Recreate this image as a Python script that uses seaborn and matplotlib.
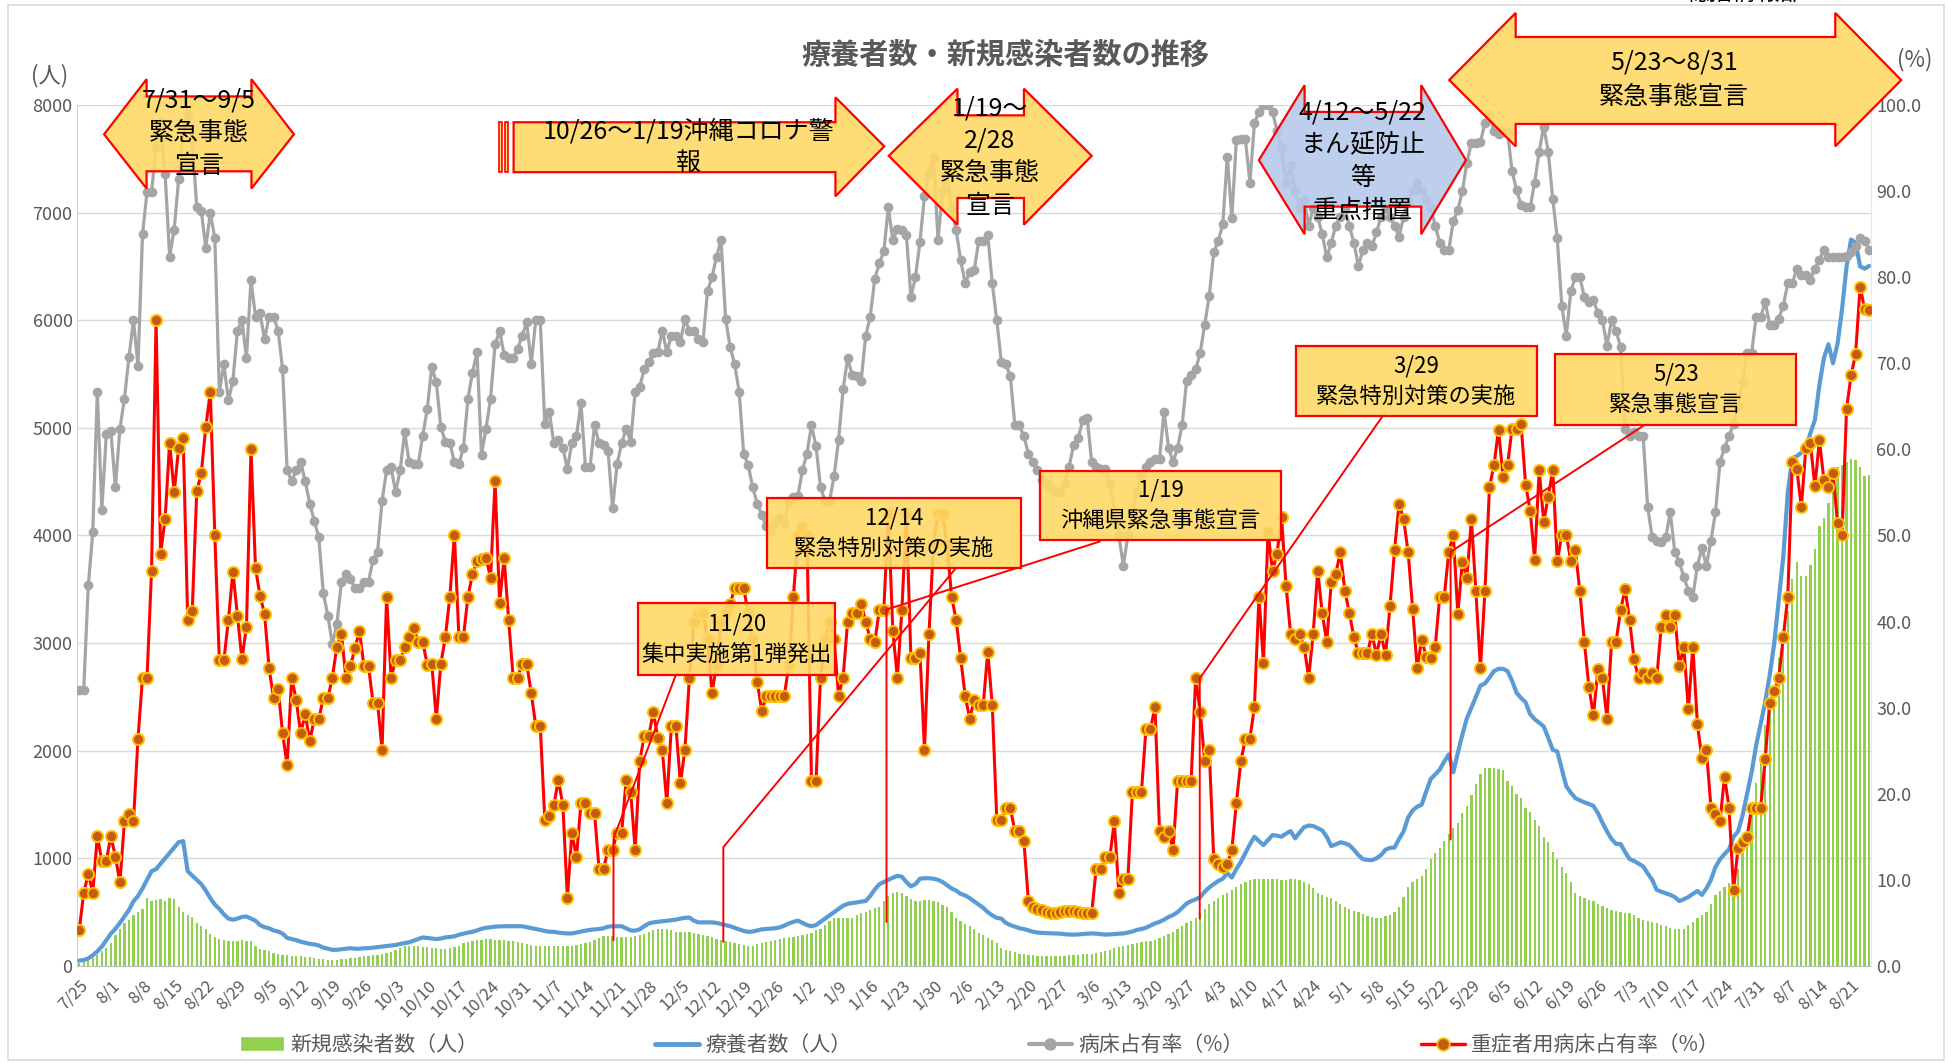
import numpy as np
import pandas as pd
import matplotlib
matplotlib.use("Agg")
import matplotlib.pyplot as plt
import matplotlib.colors as mcolors
from matplotlib.patches import Polygon, Rectangle, Patch
from matplotlib.lines import Line2D
import seaborn as sns

sns.set_style("white")
plt.rcParams['font.family'] = ['Noto Sans CJK JP', 'DejaVu Sans']

# daily categories 2020/7/25 - 2021/8/25
dates = pd.date_range("2020-07-25", "2021-08-25", freq="D")

# 新規感染者数（人） - one row per week starting at the tick date
new_cases = [
    30, 40, 55, 75, 100, 135, 170,          # 7/25
    210, 290, 340, 395, 430, 473, 500,      # 8/1
    525, 630, 600, 610, 620, 600, 630,      # 8/8
    620, 550, 500, 470, 455, 400, 370,      # 8/15
    343, 300, 265, 250, 240, 235, 229,      # 8/22
    235, 240, 235, 229, 190, 160, 150,      # 8/29
    135, 120, 110, 105, 100, 97, 94,        # 9/5
    90, 85, 80, 73, 68, 60, 55,             # 9/12
    52, 55, 60, 65, 73, 78, 82,             # 9/19
    88, 94, 100, 105, 110, 120, 130,        # 9/26
    150, 170, 187, 190, 190, 185, 180,      # 10/3
    175, 170, 165, 160, 160, 165, 175,      # 10/10
    190, 210, 225, 235, 240, 245, 250,      # 10/17
    250, 245, 240, 240, 235, 230, 220,      # 10/24
    210, 200, 195, 190, 187, 185, 185,      # 10/31
    185, 187, 190, 190, 190, 195, 200,      # 11/7
    210, 220, 240, 260, 275, 280, 280,      # 11/14
    270, 265, 265, 270, 275, 285, 300,      # 11/21
    320, 335, 343, 345, 340, 330, 320,      # 11/28
    317, 317, 315, 310, 300, 290, 280,      # 12/5
    270, 250, 240, 230, 220, 213, 205,      # 12/12
    195, 187, 190, 200, 213, 220, 230,      # 12/19
    240, 250, 260, 265, 270, 280, 291,      # 12/26
    300, 310, 330, 343, 380, 420, 447,      # 1/2
    447, 447, 447, 447, 470, 490, 500,      # 1/9
    520, 540, 551, 600, 650, 681, 690,      # 1/16
    681, 650, 620, 603, 603, 610, 610,      # 1/23
    603, 590, 570, 551, 500, 450, 421,      # 1/30
    390, 369, 340, 310, 291, 260, 240,      # 2/6
    213, 170, 150, 135, 125, 115, 109,      # 2/13
    105, 100, 97, 95, 94, 94, 94,           # 2/20
    95, 97, 100, 103, 105, 107, 109,        # 2/27
    115, 120, 128, 135, 150, 165, 180,      # 3/6
    187, 195, 205, 213, 220, 228, 235,      # 3/13
    240, 260, 280, 300, 317, 340, 370,      # 3/20
    400, 421, 450, 490, 530, 577, 600,      # 3/27
    630, 655, 680, 710, 735, 759, 780,      # 4/3
    800, 811, 811, 811, 811, 811, 805,      # 4/10
    800, 800, 805, 811, 800, 780, 759,      # 4/17
    720, 680, 655, 640, 629, 600, 577,      # 4/24
    550, 525, 510, 499, 480, 465, 457,      # 5/1
    450, 447, 460, 473, 500, 551, 640,      # 5/8
    733, 780, 811, 837, 900, 993, 1050,     # 5/15
    1097, 1160, 1227, 1280, 1331, 1420, 1487,  # 5/22
    1590, 1695, 1780, 1841, 1841, 1841, 1830,  # 5/29
    1825, 1720, 1669, 1600, 1565, 1470, 1435,  # 6/5
    1357, 1300, 1200, 1149, 1060, 993, 920,    # 6/12
    863, 780, 681, 650, 629, 610, 603,      # 6/19
    580, 560, 541, 520, 510, 499, 495,      # 6/26
    489, 470, 447, 430, 421, 405, 395,      # 7/3
    380, 369, 355, 343, 343, 343, 380,      # 7/10
    410, 447, 470, 499, 580, 655, 700,      # 7/17
    733, 770, 785, 900, 1050, 1227, 1435,   # 7/24
    1700, 1929, 2241, 2371, 2600, 2865, 2995,  # 7/31
    3300, 3593, 3749, 3619, 3619, 3723, 3879,  # 8/7
    4087, 4165, 4300, 4529, 4633, 4659, 4685,  # 8/14
    4711, 4700, 4633, 4555, 4566,           # 8/21
]

# 療養者数（人）
patients = [
    50, 55, 70, 100, 135, 180, 240,
    300, 345, 400, 460, 520, 600, 650,
    720, 800, 880, 900, 950, 1000, 1050,
    1100, 1150, 1160, 880, 840, 800, 760,
    700, 630, 570, 530, 480, 440, 430,
    440, 455, 460, 440, 420, 380, 360,
    350, 330, 320, 300, 260, 250, 240,
    225, 215, 205, 200, 190, 170, 160,
    150, 150, 155, 160, 165, 160, 160,
    165, 165, 170, 175, 180, 185, 190,
    195, 205, 213, 220, 235, 250, 265,
    260, 255, 250, 255, 265, 270, 275,
    290, 300, 310, 317, 330, 345, 354,
    360, 365, 368, 369, 369, 369, 369,
    369, 360, 350, 343, 335, 325, 318,
    317, 310, 305, 302, 302, 310, 320,
    328, 335, 340, 343, 350, 365, 369,
    369, 369, 350, 330, 328, 340, 370,
    395, 405, 410, 415, 421, 425, 430,
    440, 447, 450, 420, 405, 405, 405,
    405, 400, 390, 380, 369, 355, 340,
    325, 317, 320, 330, 340, 343, 345,
    350, 359, 375, 395, 410, 421, 400,
    380, 369, 380, 410, 440, 470, 500,
    530, 560, 577, 585, 590, 598, 603,
    650, 710, 759, 780, 800, 820, 837,
    830, 780, 740, 760, 811, 815, 815,
    811, 800, 780, 750, 720, 700, 670,
    655, 630, 600, 570, 540, 500, 470,
    447, 440, 400, 380, 365, 350, 343,
    330, 318, 310, 307, 305, 303, 302,
    300, 295, 292, 291, 293, 297, 300,
    302, 300, 295, 291, 293, 296, 300,
    302, 310, 320, 335, 343, 355, 375,
    395, 410, 430, 455, 473, 500, 540,
    580, 603, 619, 640, 690, 730, 760,
    790, 811, 863, 822, 900, 967, 1050,
    1130, 1201, 1160, 1123, 1170, 1217, 1210,
    1201, 1230, 1253, 1186, 1240, 1290, 1305,
    1300, 1280, 1260, 1200, 1113, 1130, 1149,
    1140, 1123, 1080, 1030, 993, 985, 983,
    1000, 1030, 1080, 1097, 1100, 1180, 1250,
    1380, 1445, 1480, 1498, 1620, 1737, 1780,
    1825, 1900, 1966, 1800, 1980, 2150, 2300,
    2400, 2500, 2605, 2625, 2680, 2740, 2761,
    2761, 2740, 2650, 2538, 2490, 2449, 2340,
    2293, 2260, 2226, 2120, 2010, 1992, 1830,
    1669, 1610, 1560, 1539, 1520, 1505, 1487,
    1420, 1331, 1250, 1180, 1134, 1134, 1060,
    993, 975, 950, 926, 860, 800, 707,
    690, 675, 660, 640, 603, 620, 640,
    670, 697, 660, 720, 800, 920, 990,
    1040, 1082, 1200, 1250, 1400, 1600, 1800,
    2050, 2250, 2450, 2700, 3000, 3400, 3800,
    4400, 4720, 4737, 4770, 4815, 4950, 5075,
    5400, 5650, 5777, 5600, 5780, 6100, 6500,
    6750, 6720, 6500, 6480, 6505,
]

# 病床占有率（%）
bed_rate = [
    32.1, 32.1, 44.2, 50.4, 66.7, 53.0, 61.8,
    62.1, 55.6, 62.4, 65.9, 70.7, 75.0, 69.7,
    85.0, 89.9, 89.9, 95.0, 98.0, 92.0, 82.4,
    85.5, 91.4, 97.0, 99.0, 96.0, 88.1, 87.7,
    83.4, 87.5, 84.5, 66.7, 69.9, 65.7, 68.0,
    73.8, 75.0, 70.6, 79.7, 75.4, 75.8, 72.8,
    75.4, 75.4, 73.8, 69.3, 57.6, 56.3, 57.6,
    58.5, 56.3, 53.7, 51.7, 49.8, 43.3, 40.7,
    37.4, 39.7, 44.6, 45.5, 44.9, 43.9, 43.9,
    44.6, 44.6, 47.2, 48.1, 54.0, 57.6, 57.9,
    55.0, 57.6, 62.0, 58.5, 58.3, 58.3, 61.6,
    64.7, 69.6, 67.8, 62.6, 60.9, 60.8, 58.5,
    58.3, 60.2, 65.9, 68.9, 71.3, 59.4, 62.4,
    65.9, 72.2, 73.8, 71.0, 70.6, 70.6, 71.7,
    73.2, 74.8, 69.9, 75.0, 75.0, 62.9, 64.4,
    60.7, 61.1, 60.2, 57.7, 60.8, 61.5, 65.4,
    57.9, 57.9, 62.8, 60.7, 60.5, 59.8, 53.2,
    58.3, 60.7, 62.4, 60.9, 66.7, 67.3, 69.3,
    70.2, 71.2, 71.3, 73.8, 71.3, 73.2, 73.2,
    72.5, 75.1, 73.8, 73.8, 72.8, 72.5, 78.4,
    80.0, 82.4, 84.3, 75.2, 71.9, 69.9, 66.7,
    59.5, 58.2, 55.6, 53.7, 52.4, 51.1, 50.5,
    51.5, 52.0, 51.5, 54.0, 54.5, 54.6, 57.6,
    59.5, 62.8, 60.4, 55.6, 54.0, 54.0, 56.9,
    61.1, 67.0, 70.6, 68.6, 68.5, 68.0, 73.2,
    75.4, 79.8, 81.6, 83.0, 88.1, 84.3, 85.6,
    85.5, 84.9, 77.7, 80.0, 84.1, 89.4, 92.0,
    94.0, 84.3, 90.0, 92.0, 88.0, 85.5, 82.0,
    79.3, 80.6, 80.8, 84.2, 84.2, 84.9, 79.3,
    75.0, 70.2, 69.9, 68.5, 62.8, 62.8, 61.5,
    59.5, 58.5, 57.6, 56.5, 56.0, 55.5, 55.0,
    55.0, 56.0, 58.0, 60.5, 61.3, 63.4, 63.7,
    58.5, 58.0, 57.7, 57.7, 56.0, 53.0, 50.0,
    46.5, 50.0, 53.0, 55.0, 57.0, 58.0, 58.5,
    58.9, 58.9, 64.4, 60.2, 58.5, 60.2, 62.8,
    68.0, 68.6, 69.3, 71.2, 74.5, 77.8, 82.9,
    84.2, 86.2, 94.0, 86.9, 95.9, 96.0, 96.0,
    91.0, 97.9, 99.2, 100.0, 100.0, 99.2, 97.0,
    95.0, 91.0, 93.0, 90.0, 88.0, 89.0, 86.0,
    88.0, 87.0, 85.0, 82.3, 84.0, 86.0, 87.0,
    88.0, 86.0, 84.0, 81.3, 83.2, 84.0, 83.6,
    85.2, 87.0, 88.0, 87.0, 86.0, 84.7, 87.0,
    89.0, 90.0, 91.0, 90.0, 89.0, 88.0, 86.0,
    84.0, 83.2, 83.2, 86.5, 87.8, 90.0, 93.3,
    95.6, 95.6, 95.7, 97.9, 98.8, 97.0, 96.6,
    96.9, 96.9, 92.3, 90.1, 88.4, 88.1, 88.1,
    91.0, 94.6, 97.5, 94.6, 89.1, 84.5, 76.7,
    73.2, 78.4, 80.0, 80.0, 77.7, 77.1, 77.4,
    75.8, 75.0, 72.0, 75.0, 73.8, 71.9, 62.4,
    61.5, 62.0, 61.5, 61.5, 53.3, 49.8, 49.4,
    49.3, 49.8, 52.7, 48.1, 46.9, 45.2, 43.6,
    42.9, 46.5, 48.5, 46.5, 49.4, 52.7, 58.5,
    60.2, 61.5, 63.0, 65.0, 68.0, 71.2, 71.2,
    75.4, 75.4, 77.1, 74.5, 74.5, 75.2, 76.7,
    79.3, 79.3, 81.0, 80.3, 80.3, 79.7, 81.0,
    82.0, 83.2, 82.3, 82.3, 82.3, 82.3, 82.5,
    82.9, 83.6, 84.5, 84.2, 83.2,
]

# 重症者用病床占有率（%）
severe_rate = [
    4.2, 8.5, 10.7, 8.5, 15.1, 12.2, 12.2,
    15.1, 12.7, 9.7, 16.8, 17.7, 16.8, 26.4,
    33.5, 33.5, 45.9, 75.0, 47.9, 51.9, 60.8,
    55.0, 60.2, 61.3, 40.2, 41.2, 55.2, 57.2,
    62.6, 66.7, 50.0, 35.5, 35.5, 40.2, 45.8,
    40.7, 35.6, 39.4, 60.1, 46.2, 43.0, 40.9,
    34.6, 31.1, 32.2, 27.0, 23.3, 33.5, 30.9,
    27.0, 29.3, 26.1, 28.7, 28.7, 31.1, 31.1,
    33.5, 37.1, 38.6, 33.5, 34.8, 36.9, 38.9,
    34.8, 34.8, 30.6, 30.6, 25.1, 42.9, 33.5,
    35.5, 35.5, 37.0, 38.2, 39.2, 37.6, 37.6,
    35.0, 35.1, 28.7, 35.1, 38.2, 42.9, 50.1,
    38.2, 38.2, 42.9, 45.5, 47.0, 47.3, 47.4,
    45.1, 56.3, 42.2, 47.4, 40.2, 33.5, 33.5,
    35.1, 35.1, 31.7, 27.9, 27.9, 17.0, 17.4,
    18.7, 21.6, 18.7, 7.9, 15.5, 12.6, 18.9,
    18.9, 17.8, 17.8, 11.3, 11.3, 13.5, 13.5,
    15.5, 15.5, 21.6, 20.2, 13.5, 23.8, 26.7,
    26.7, 29.5, 26.5, 25.1, 18.9, 27.9, 27.9,
    21.2, 25.1, 33.5, 40.0, 41.0, 41.0, 38.0,
    31.7, 35.0, 40.0, 41.0, 42.0, 43.9, 43.9,
    43.9, 41.0, 38.0, 33.0, 29.6, 31.4, 31.4,
    31.4, 31.4, 31.4, 35.0, 42.9, 50.0, 51.0,
    50.0, 21.5, 21.5, 33.5, 38.0, 40.0, 38.0,
    31.4, 33.5, 40.0, 41.0, 41.0, 42.0, 40.0,
    38.0, 37.6, 41.3, 41.3, 52.5, 38.9, 33.5,
    41.3, 52.5, 35.8, 35.8, 36.4, 25.1, 38.6,
    49.0, 52.5, 52.5, 49.0, 42.9, 40.2, 35.8,
    31.4, 28.7, 30.9, 30.3, 30.3, 36.5, 30.3,
    17.0, 17.0, 18.3, 18.3, 15.7, 15.7, 14.5,
    7.5, 6.8, 6.6, 6.5, 6.3, 6.2, 6.2,
    6.3, 6.4, 6.4, 6.4, 6.3, 6.2, 6.2,
    6.2, 11.3, 11.3, 12.6, 12.6, 16.8, 8.5,
    10.1, 10.1, 20.2, 20.2, 20.2, 27.5, 27.5,
    30.1, 15.7, 15.0, 15.7, 13.5, 21.5, 21.5,
    21.5, 21.5, 33.5, 29.5, 23.8, 25.1, 12.4,
    11.8, 11.5, 11.8, 13.5, 18.9, 23.8, 26.4,
    26.4, 30.1, 42.9, 35.2, 50.4, 45.9, 47.9,
    52.2, 44.1, 38.6, 38.0, 38.6, 37.1, 33.5,
    38.6, 45.9, 41.0, 37.6, 44.6, 45.5, 48.1,
    43.6, 41.0, 38.2, 36.3, 36.3, 36.3, 38.6,
    36.1, 38.6, 36.1, 41.8, 48.3, 53.7, 51.9,
    48.1, 41.5, 34.6, 37.9, 35.9, 35.8, 37.1,
    42.9, 42.9, 48.1, 50.1, 40.9, 46.9, 45.1,
    51.9, 43.5, 34.6, 43.5, 55.6, 58.2, 62.3,
    56.8, 58.2, 62.4, 62.4, 62.9, 55.9, 52.9,
    47.2, 57.6, 51.6, 54.5, 57.6, 47.0, 50.1,
    50.1, 47.0, 48.3, 43.5, 37.6, 32.4, 29.1,
    34.5, 33.4, 28.7, 37.6, 37.6, 41.3, 43.8,
    40.2, 35.6, 33.4, 34.0, 33.4, 34.0, 33.4,
    39.4, 40.8, 39.4, 40.8, 34.8, 37.1, 29.8,
    37.1, 28.1, 24.1, 25.1, 18.4, 17.6, 16.8,
    22.0, 18.4, 8.8, 13.7, 14.4, 15.0, 18.4,
    18.4, 18.4, 24.0, 30.6, 31.9, 33.4, 38.2,
    42.9, 58.5, 57.7, 53.3, 60.2, 60.7, 55.7,
    61.1, 56.4, 55.6, 57.2, 51.5, 50.1, 64.7,
    68.6, 71.1, 78.9, 76.3, 76.2,
]

for s in (new_cases, patients, bed_rate, severe_rate):
    assert len(s) == len(dates), len(s)

df = pd.DataFrame({
    "day": np.arange(len(dates)),
    "new": new_cases,
    "patients": patients,
    "bed": bed_rate,
    "severe": severe_rate,
})
tick_labels = [f"{d.month}/{d.day}" for d in dates[::7]]

GREEN = "#92D050"
BLUE = "#5B9BD5"
GRAY = "#A5A5A5"
TXT = "#595959"

fig = plt.figure(figsize=(19.6, 10.63), dpi=100)
ax = fig.add_axes([0.0395, 0.0913, 0.9153, 0.8099])

sns.barplot(data=df, x="day", y="new", native_scale=True, color=GREEN,
            saturation=1, width=0.5, linewidth=0, errorbar=None, ax=ax)
sns.lineplot(data=df, x="day", y="patients", color=BLUE, linewidth=3,
             errorbar=None, ax=ax, zorder=3)

ax2 = ax.twinx()
sns.lineplot(data=df, x="day", y="bed", color=GRAY, linewidth=2.3,
             marker="o", markersize=7, markeredgecolor=GRAY,
             markeredgewidth=0, errorbar=None, ax=ax2, zorder=3)
sns.lineplot(data=df, x="day", y="severe", color="#FF0000", linewidth=2.2,
             marker="o", markersize=8, markerfacecolor="#C55A11",
             markeredgecolor="#FFC000", markeredgewidth=1.4,
             errorbar=None, ax=ax2, zorder=4)

ax.set_xlim(-0.4, 396.5)
ax.set_ylim(0, 8000)
ax2.set_ylim(0, 100)
ax.set_yticks(range(0, 8001, 1000))
ax2.set_yticks(np.arange(0, 101, 10))
ax2.set_yticklabels([f"{v:.1f}" for v in np.arange(0, 101, 10)])
ax.set_xticks(range(0, len(dates), 7))
ax.set_xticklabels(tick_labels, rotation=45, ha="right", rotation_mode="anchor")
for a in (ax, ax2):
    a.set_xlabel("")
    a.set_ylabel("")
    a.tick_params(length=0, labelsize=13, labelcolor=TXT)
ax.tick_params(axis="x", pad=8, labelsize=12)
ax.yaxis.grid(True, color="#D9D9D9", linewidth=1)
ax.set_axisbelow(True)
ax2.grid(False)
for sp in ("top", "right"):
    ax.spines[sp].set_visible(False)
ax2.spines["top"].set_visible(False)
ax2.spines["left"].set_visible(False)
ax2.spines["bottom"].set_visible(False)
ax2.spines["right"].set_color("#DDEBF7")
ax.spines["left"].set_color("#BDD7EE")
ax.spines["bottom"].set_color("#BFBFBF")

# ---- annotations (drawn on ax2: x = day index, y = percent) ----
YEL = mcolors.to_rgba("#FFD966", 0.9)
LBLUE = mcolors.to_rgba("#B4C9EA", 0.88)


def double_arrow(tl, sl, sr, tr, c, ht, st, sb, hb, fc):
    pts = [(tl, c), (sl, ht), (sl, st), (sr, st), (sr, ht), (tr, c),
           (sr, hb), (sr, sb), (sl, sb), (sl, hb)]
    ax2.add_patch(Polygon(pts, closed=True, facecolor=fc, edgecolor="red",
                          linewidth=1.6, zorder=10, clip_on=False))


def label(x, y, s, size=18, ls=1.33):
    ax2.text(x, y, s, ha="center", va="center", fontsize=size, linespacing=ls,
             color="black", zorder=12, clip_on=False)


def callout(x0, x1, y0, y1, text, path):
    xs, ys = zip(*path)
    ax2.plot(xs, ys, color="red", linewidth=1.4, zorder=9, clip_on=False)
    ax2.add_patch(Rectangle((x0, y0), x1 - x0, y1 - y0, facecolor=YEL,
                            edgecolor="red", linewidth=1.6, zorder=10,
                            clip_on=False))
    label((x0 + x1) / 2, (y0 + y1) / 2, text, size=16, ls=1.42)


# 7/31~9/5
double_arrow(5.5, 14.9, 38.1, 47.5, 96.6, 103.0, 101.0, 92.3, 90.3, YEL)
label(26.5, 96.75, "7/31～9/5\n緊急事態\n宣言")

# 10/26~1/19 right arrow with stripes
for xa, xb in ((92.8, 93.5), (94.1, 94.8)):
    ax2.add_patch(Rectangle((xa, 92.2), xb - xa, 5.8, facecolor=YEL,
                            edgecolor="red", linewidth=1.2, zorder=10,
                            clip_on=False))
ax2.add_patch(Polygon([(96.1, 98.0), (167.3, 98.0), (167.3, 100.9),
                       (178.1, 95.2), (167.3, 89.4), (167.3, 92.2),
                       (96.1, 92.2)], closed=True, facecolor=YEL,
                      edgecolor="red", linewidth=1.6, zorder=10, clip_on=False))
label(134.7, 95.1, "10/26～1/19沖縄コロナ警\n報", ls=1.3)

# 1/19~2/28
double_arrow(179.1, 194.3, 209.0, 224.0, 94.1, 101.9, 98.8, 89.2, 86.1, YEL)
label(201.5, 93.95, "1/19～\n2/28\n緊急事態\n宣言")

# 4/12~5/22
double_arrow(261.0, 271.1, 296.9, 306.8, 93.6, 102.3, 99.2, 88.2, 85.0, LBLUE)
label(284.0, 93.4, "4/12～5/22\nまん延防止\n等\n重点措置")

# 5/23~8/31
double_arrow(303.1, 317.8, 388.5, 403.1, 102.9, 110.7, 107.9, 97.8, 95.2, YEL)
label(352.8, 102.95, "5/23～8/31\n緊急事態宣言", ls=1.4)

callout(123.7, 167.3, 33.8, 42.1, "11/20\n集中実施第1弾発出",
        [(132.0, 33.8), (118.2, 14.8), (118.2, 3.0)])
callout(152.1, 208.4, 46.2, 54.4, "12/14\n緊急特別対策の実施",
        [(194.1, 46.3), (142.5, 13.8), (142.5, 2.8)])
callout(212.6, 265.9, 49.5, 57.5, "1/19\n沖縄県緊急事態宣言",
        [(225.8, 49.3), (178.6, 41.4), (178.6, 5.1)])
callout(269.2, 322.5, 63.9, 72.0, "3/29\n緊急特別対策の実施",
        [(288.8, 64.2), (247.9, 33.4), (247.9, 5.5)])
callout(326.6, 379.9, 62.8, 71.1, "5/23\n緊急事態宣言",
        [(346.2, 62.8), (303.4, 48.1), (303.4, 14.7)])

# ---- figure texts ----
fig.text(0.513, 0.948, "療養者数・新規感染者数の推移", ha="center", va="center",
         fontsize=21, fontweight="bold", color=TXT)
fig.text(0.0255, 0.9285, "(人)", ha="center", va="center", fontsize=16, color=TXT)
fig.text(0.977, 0.9436, "(%)", ha="center", va="center", fontsize=16, color=TXT)
fig.text(0.890, 0.9955, "総括情報部", ha="center", va="bottom", fontsize=17,
         color="black")
fig.patches.append(Rectangle((0.004, 0.003), 0.988, 0.9925, transform=fig.transFigure,
                             fill=False, edgecolor="#D9D9D9", linewidth=1.2))

handles = [
    Patch(facecolor=GREEN),
    Line2D([0], [0], color=BLUE, linewidth=3.5),
    Line2D([0], [0], color=GRAY, linewidth=3, marker="o", markersize=8,
           markeredgecolor=GRAY),
    Line2D([0], [0], color="#FF0000", linewidth=2.5, marker="o", markersize=9,
           markerfacecolor="#C55A11", markeredgecolor="#FFC000",
           markeredgewidth=1.3),
]
labels = ["新規感染者数（人）", "療養者数（人）", "病床占有率（%）", "重症者用病床占有率（%）"]
fig.legend(handles, labels, loc="center", bbox_to_anchor=(0.5, 0.017), ncol=4,
           frameon=False, fontsize=15, columnspacing=8.5, handlelength=2.1,
           handletextpad=0.3, labelcolor=TXT)

fig.savefig("out.png", dpi=100)
